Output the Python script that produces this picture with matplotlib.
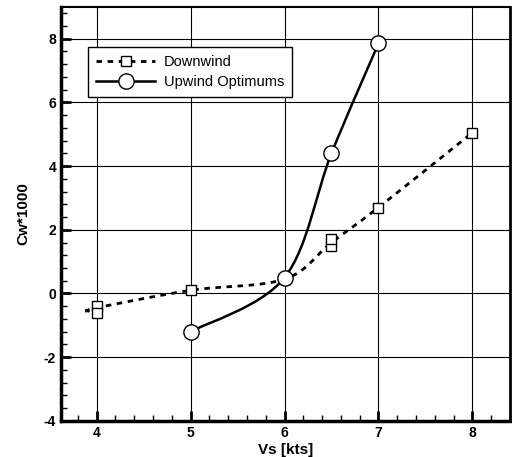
import numpy as np
import matplotlib.pyplot as plt
from matplotlib.path import Path
from matplotlib.patches import PathPatch
from matplotlib.lines import Line2D
from matplotlib.ticker import MultipleLocator

plt.rcParams['font.family'] = ['Liberation Sans', 'DejaVu Sans']
plt.rcParams['axes.unicode_minus'] = False

# Downwind: measured points (squares) and the faired line through them
down_x = [4, 4, 5, 6, 6.5, 6.5, 7, 8]
down_y = [-0.4, -0.6, 0.1, 0.45, 1.5, 1.7, 2.7, 5.05]
down_line_x = [3.9, 4, 5, 6, 6.5, 7, 8]
down_line_y = [-0.57, -0.45, 0.1, 0.45, 1.6, 2.7, 5.05]

# Upwind optimums
up_x = [5, 6, 6.5, 7]
up_y = [-1.2, 0.5, 4.4, 7.85]


def smooth_path(xs, ys, tension=0.5):
    """Catmull-Rom style bezier path through the given points."""
    pts = np.column_stack([xs, ys]).astype(float)
    verts = [pts[0]]
    codes = [Path.MOVETO]
    n = len(pts)
    for i in range(n - 1):
        p0 = pts[i - 1] if i > 0 else pts[i]
        p1 = pts[i]
        p2 = pts[i + 1]
        p3 = pts[i + 2] if i + 2 < n else pts[i + 1]
        c1 = p1 + (p2 - p0) * tension / 3
        c2 = p2 - (p3 - p1) * tension / 3
        verts += [c1, c2, p2]
        codes += [Path.CURVE4] * 3
    return Path(verts, codes)


fig = plt.figure(figsize=(5.12, 4.57), dpi=100)
ax = fig.add_axes([0.119, 0.079, 0.877, 0.906])

ax.add_patch(PathPatch(smooth_path(down_line_x, down_line_y, 0.5), fill=False,
                       edgecolor='black', lw=2.0, linestyle=(0, (2, 2)), zorder=3))
ax.add_patch(PathPatch(smooth_path(up_x, up_y, 0.5), fill=False,
                       edgecolor='black', lw=1.8, zorder=3))

ax.plot(down_x, down_y, linestyle='none', marker='s', ms=7, mfc='white',
        mec='black', mew=1.0, zorder=4)
ax.plot(up_x, up_y, linestyle='none', marker='o', ms=11, mfc='white',
        mec='black', mew=1.0, zorder=5)

ax.set_xlim(3.62, 8.4)
ax.set_ylim(-4, 9.0)
ax.xaxis.set_minor_locator(MultipleLocator(0.2))
ax.yaxis.set_minor_locator(MultipleLocator(0.4))
ax.set_xticks([4, 5, 6, 7, 8])
ax.set_yticks([-4, -2, 0, 2, 4, 6, 8])

ax.tick_params(which='major', direction='in', length=7, width=2,
               labelsize=10, top=False, right=False)
ax.tick_params(which='minor', direction='in', length=4, width=1,
               top=False, right=False)
for lbl in ax.get_xticklabels() + ax.get_yticklabels():
    lbl.set_fontweight('bold')

ax.grid(True, which='major', color='black', lw=0.8)
ax.set_axisbelow(True)
ax.spines['left'].set_linewidth(2.5)
ax.spines['bottom'].set_linewidth(2.5)
ax.spines['top'].set_linewidth(1.5)
ax.spines['right'].set_linewidth(2.0)

ax.set_xlabel('Vs [kts]', fontsize=11, fontweight='bold', labelpad=2)
ax.set_ylabel('Cw*1000', fontsize=11, fontweight='bold', labelpad=10)

handles = [
    Line2D([], [], color='black', lw=2.0, linestyle=(0, (2, 2)), marker='s',
           ms=7, mfc='white', mec='black'),
    Line2D([], [], color='black', lw=1.8, marker='o', ms=11, mfc='white',
           mec='black'),
]
leg = ax.legend(handles, ['Downwind', 'Upwind Optimums'], loc='upper left',
                bbox_to_anchor=(0.045, 0.92), fontsize=10.5, frameon=True,
                fancybox=False, edgecolor='black', framealpha=1,
                handlelength=4.0, borderpad=0.55, labelspacing=0.4,
                handletextpad=0.6)
leg.get_frame().set_linewidth(1.0)

fig.savefig('out.png', dpi=100)
